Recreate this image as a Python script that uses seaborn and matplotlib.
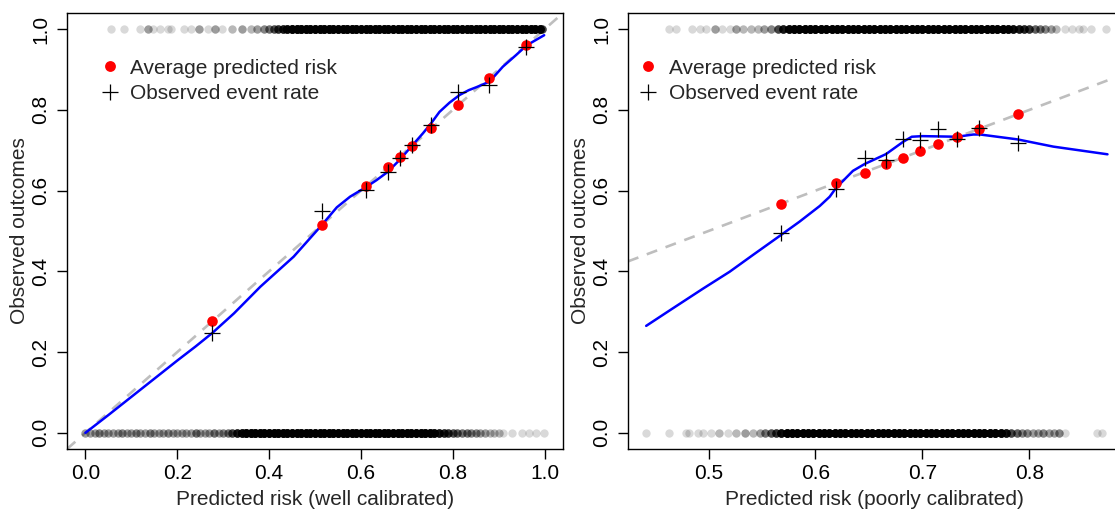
import numpy as np
import pandas as pd
import matplotlib
matplotlib.use("Agg")
import matplotlib.pyplot as plt
from matplotlib.lines import Line2D
import seaborn as sns

# ---------------- data ----------------
# Left panel (well calibrated)
left_pred = [0.276, 0.515, 0.610, 0.659, 0.685, 0.711, 0.753, 0.811, 0.879, 0.960]
left_avg = [0.277, 0.515, 0.611, 0.659, 0.684, 0.711, 0.754, 0.812, 0.880, 0.961]
left_obs = [0.247, 0.549, 0.601, 0.647, 0.680, 0.713, 0.762, 0.845, 0.862, 0.955]
left_curve_x = [0.0, 0.05, 0.10, 0.15, 0.20, 0.24, 0.276, 0.3236, 0.381, 0.4536, 0.515, 0.5475,
                0.5764, 0.610, 0.634, 0.659, 0.685, 0.711, 0.735, 0.753, 0.771, 0.793, 0.815,
                0.835, 0.851, 0.880, 0.909, 0.938, 0.961, 0.999]
left_curve_y = [0.0, 0.044, 0.089, 0.134, 0.179, 0.214, 0.247, 0.296, 0.362, 0.4365, 0.515, 0.5586,
                0.585, 0.608, 0.626, 0.647, 0.677, 0.711, 0.742, 0.767, 0.795, 0.818, 0.837,
                0.849, 0.856, 0.870, 0.907, 0.936, 0.960, 0.985]

# Right panel (poorly calibrated)
right_pred = [0.568, 0.619, 0.646, 0.666, 0.682, 0.698, 0.715, 0.7325, 0.753, 0.789]
right_avg = [0.567, 0.618, 0.644, 0.666, 0.680, 0.698, 0.715, 0.732, 0.752, 0.789]
right_obs = [0.494, 0.603, 0.680, 0.676, 0.729, 0.725, 0.752, 0.728, 0.754, 0.717]
right_curve_x = [0.4417, 0.4635, 0.4947, 0.5197, 0.5415, 0.5677, 0.585, 0.604, 0.6133, 0.619,
                 0.635, 0.646, 0.666, 0.682, 0.690, 0.700, 0.7325, 0.7475, 0.754, 0.7887,
                 0.8224, 0.873]
right_curve_y = [0.265, 0.303, 0.357, 0.399, 0.4406, 0.490, 0.523, 0.562, 0.585, 0.606,
                 0.649, 0.666, 0.6906, 0.721, 0.7335, 0.735, 0.7335, 0.739, 0.739, 0.727,
                 0.709, 0.690]

# Rug data: predicted risk positions and number of subjects at each position
left_event_pos = [0.056, 0.085, 0.120, 0.136, 0.147, 0.163, 0.179, 0.186, 0.215, 0.229, 0.248,
                  0.266, 0.282, 0.298, 0.320, 0.342, 0.360, 0.374,
                  0.39, 0.40, 0.41, 0.42, 0.43, 0.44, 0.45, 0.46, 0.47, 0.48, 0.49,
                  0.50, 0.51, 0.52, 0.53, 0.54, 0.55, 0.56, 0.57, 0.58, 0.59,
                  0.60, 0.61, 0.62, 0.63, 0.64, 0.65, 0.66, 0.67, 0.68, 0.69,
                  0.70, 0.71, 0.72, 0.73, 0.74, 0.75, 0.76, 0.77, 0.78, 0.79,
                  0.80, 0.81, 0.82, 0.83, 0.84, 0.85, 0.86, 0.87, 0.88, 0.89,
                  0.90, 0.91, 0.92, 0.93, 0.94, 0.95, 0.96, 0.97, 0.98, 0.99, 0.995]
left_event_n = [1, 1, 1, 3, 1, 1, 1, 1, 1, 1, 3, 1, 3, 1, 2, 3, 2, 3,
                4, 5, 7, 10, 14, 20, 28, 28, 28, 28, 28,
                28, 28, 28, 28, 28, 28, 28, 28, 28, 28,
                28, 28, 28, 28, 28, 28, 28, 28, 28, 28,
                28, 28, 28, 28, 28, 28, 28, 28, 28, 28,
                28, 28, 28, 28, 28, 28, 28, 28, 28, 28,
                28, 28, 28, 28, 28, 28, 28, 28, 28, 22, 8]
left_nonevent_pos = [0.00, 0.01, 0.02, 0.03, 0.04, 0.05, 0.06, 0.07, 0.08, 0.09,
                     0.10, 0.11, 0.12, 0.13, 0.14, 0.15, 0.16, 0.17, 0.18, 0.19,
                     0.20, 0.21, 0.22, 0.23, 0.24, 0.25, 0.26, 0.27, 0.28, 0.29,
                     0.30, 0.31, 0.32, 0.33, 0.34, 0.35, 0.36, 0.37, 0.38, 0.39,
                     0.40, 0.41, 0.42, 0.43, 0.44, 0.45, 0.46, 0.47, 0.48, 0.49,
                     0.50, 0.51, 0.52, 0.53, 0.54, 0.55, 0.56, 0.57, 0.58, 0.59,
                     0.60, 0.61, 0.62, 0.63, 0.64, 0.65, 0.66, 0.67, 0.68, 0.69,
                     0.70, 0.71, 0.72, 0.73, 0.74, 0.75, 0.76, 0.77, 0.78, 0.79,
                     0.80, 0.81, 0.82, 0.83, 0.84, 0.85, 0.86, 0.87, 0.88, 0.89,
                     0.90, 0.91, 0.930, 0.951, 0.966, 0.981, 0.999]
left_nonevent_n = [3, 3, 3, 4, 3, 3, 3, 3, 4, 3,
                   3, 4, 3, 3, 4, 3, 3, 3, 4, 3,
                   3, 3, 3, 3, 5, 3, 3, 3, 5, 3,
                   4, 5, 8, 14, 20, 28, 28, 28, 28, 28,
                   28, 28, 28, 28, 28, 28, 28, 28, 28, 28,
                   28, 28, 28, 28, 28, 28, 28, 28, 28, 28,
                   28, 28, 28, 28, 28, 28, 28, 28, 28, 28,
                   28, 28, 28, 28, 28, 28, 22, 16, 12, 10,
                   7, 6, 5, 5, 4, 4, 3, 3, 2, 2,
                   2, 1, 1, 1, 1, 1, 1]

right_event_pos = [0.4635, 0.470, 0.485, 0.4916, 0.498, 0.5056, 0.513, 0.520, 0.526, 0.532,
                   0.540, 0.546, 0.552, 0.558,
                   0.565, 0.570, 0.575, 0.580, 0.585, 0.590, 0.595, 0.600, 0.605, 0.610,
                   0.615, 0.620, 0.625, 0.630, 0.635, 0.640, 0.645, 0.650, 0.655, 0.660,
                   0.665, 0.670, 0.675, 0.680, 0.685, 0.690, 0.695, 0.700, 0.705, 0.710,
                   0.715, 0.720, 0.725, 0.730, 0.735, 0.740, 0.745, 0.750, 0.755, 0.760,
                   0.765, 0.770, 0.775, 0.780, 0.785, 0.790, 0.795, 0.800,
                   0.805, 0.810, 0.815, 0.820, 0.825, 0.833, 0.840, 0.846, 0.850, 0.858, 0.872]
right_event_n = [1, 1, 1, 1, 1, 3, 1, 1, 3, 2,
                 2, 2, 3, 4,
                 8, 14, 22, 28, 28, 28, 28, 28, 28, 28,
                 28, 28, 28, 28, 28, 28, 28, 28, 28, 28,
                 28, 28, 28, 28, 28, 28, 28, 28, 28, 28,
                 28, 28, 28, 28, 28, 28, 28, 28, 28, 28,
                 28, 28, 28, 24, 18, 14, 12, 10,
                 6, 5, 4, 3, 2, 1, 1, 1, 1, 1, 1]
right_nonevent_pos = [0.4417, 0.4635, 0.479, 0.482, 0.490, 0.4947, 0.5025, 0.510, 0.518, 0.526,
                      0.534, 0.5415, 0.548, 0.553, 0.558, 0.563,
                      0.568, 0.573, 0.578, 0.583, 0.588, 0.593, 0.598, 0.603, 0.608, 0.613,
                      0.618, 0.623, 0.628, 0.633, 0.638, 0.643, 0.648, 0.653, 0.658, 0.663,
                      0.668, 0.673, 0.678, 0.683, 0.688, 0.693, 0.698, 0.703, 0.708, 0.713,
                      0.718, 0.723, 0.728, 0.733, 0.738, 0.743, 0.748, 0.753, 0.758, 0.763,
                      0.768, 0.773, 0.778,
                      0.783, 0.788, 0.793, 0.798, 0.803, 0.808, 0.813, 0.818, 0.823, 0.828,
                      0.833, 0.863, 0.868]
right_nonevent_n = [1, 1, 1, 1, 1, 1, 1, 2, 1, 2,
                    3, 2, 3, 5, 7, 10,
                    18, 28, 28, 28, 28, 28, 28, 28, 28, 28,
                    28, 28, 28, 28, 28, 28, 28, 28, 28, 28,
                    28, 28, 28, 28, 28, 28, 28, 28, 28, 28,
                    28, 28, 28, 28, 28, 28, 28, 28, 28, 28,
                    28, 24, 16,
                    8, 6, 4, 4, 3, 3, 4, 3, 3, 4,
                    1, 1, 1]

x_labels = ["Predicted risk (well calibrated)", "Predicted risk (poorly calibrated)"]
y_label = "Observed outcomes"
legend_labels = ["Average predicted risk", "Observed event rate"]

# ---------------- style ----------------
sns.set_style("ticks")
plt.rcParams['font.family'] = ['Liberation Sans', 'DejaVu Sans']
plt.rcParams['axes.linewidth'] = 1.0

FS = 15
fig = plt.figure(figsize=(11.15, 5.11), dpi=100)
W, H = 1115, 511
ax1 = fig.add_axes([67 / W, 62 / H, 496 / W, 436 / H])
ax2 = fig.add_axes([628 / W, 62 / H, 492 / W, 436 / H])


def rug_frame(pos1, n1, pos0, n0):
    x1 = np.repeat(pos1, n1)
    x0 = np.repeat(pos0, n0)
    return pd.DataFrame({"x": np.concatenate([x1, x0]),
                         "y": np.concatenate([np.ones(len(x1)), np.zeros(len(x0))])})


def draw(ax, rug, cx, cy, pred, avg, obs, xlabel, xlim, xticks):
    # reference diagonal
    ax.axline((0, 0), (1, 1), color="#BEBEBE", lw=1.9, dashes=(4.2, 3.4), zorder=1)
    sns.scatterplot(data=rug, x="x", y="y", ax=ax, color="black", alpha=0.15,
                    s=36, linewidth=0, zorder=2, legend=False)
    cdf = pd.DataFrame({"x": cx, "y": cy})
    sns.lineplot(data=cdf, x="x", y="y", ax=ax, color="#0000FF", lw=1.8,
                 sort=False, estimator=None, zorder=3)
    pdf = pd.DataFrame({"pred": pred, "avg": avg, "obs": obs})
    sns.scatterplot(data=pdf, x="pred", y="avg", ax=ax, color="#FF0000", s=58,
                    linewidth=0, zorder=4, legend=False)
    sns.scatterplot(data=pdf, x="pred", y="obs", ax=ax, color="black", marker="+",
                    s=135, linewidth=0.9, zorder=5, legend=False)
    ax.set_xlim(*xlim)
    ax.set_ylim(-0.04, 1.04)
    ax.set_xticks(xticks)
    ax.set_xticklabels([f"{t:.1f}" for t in xticks])
    yt = [0.0, 0.2, 0.4, 0.6, 0.8, 1.0]
    ax.set_yticks(yt)
    ax.set_yticklabels([f"{t:.1f}" for t in yt], rotation=90, va="center")
    ax.tick_params(axis="both", direction="out", length=7, width=1, labelsize=FS,
                   color="black", labelcolor="black")
    ax.tick_params(axis="x", pad=3.5)
    ax.tick_params(axis="y", pad=5)
    ax.set_xlabel(xlabel, fontsize=FS, labelpad=5.5)
    ax.set_ylabel(y_label, fontsize=FS, labelpad=1.5)
    for s in ax.spines.values():
        s.set_visible(True)
        s.set_color("black")
        s.set_linewidth(1.0)
    handles = [Line2D([], [], marker="o", color="#FF0000", ls="none", markersize=7.8, mew=0),
               Line2D([], [], marker="+", color="black", ls="none", markersize=11.5, mew=0.9)]
    return handles


h = draw(ax1, rug_frame(left_event_pos, left_event_n, left_nonevent_pos, left_nonevent_n),
         left_curve_x, left_curve_y, left_pred, left_avg, left_obs, x_labels[0],
         (-0.04, 1.04), [0.0, 0.2, 0.4, 0.6, 0.8, 1.0])
ax1.legend(h, legend_labels, loc="upper left", bbox_to_anchor=(0.065, 0.895),
           frameon=False, fontsize=FS, handlelength=1.0, handletextpad=0.5,
           borderpad=0, borderaxespad=0, labelspacing=0.3)

h = draw(ax2, rug_frame(right_event_pos, right_event_n, right_nonevent_pos, right_nonevent_n),
         right_curve_x, right_curve_y, right_pred, right_avg, right_obs, x_labels[1],
         (0.4247, 0.8847), [0.5, 0.6, 0.7, 0.8])
ax2.legend(h, legend_labels, loc="upper left", bbox_to_anchor=(0.02, 0.895),
           frameon=False, fontsize=FS, handlelength=1.0, handletextpad=0.5,
           borderpad=0, borderaxespad=0, labelspacing=0.3)

fig.savefig("out.png", dpi=100)
